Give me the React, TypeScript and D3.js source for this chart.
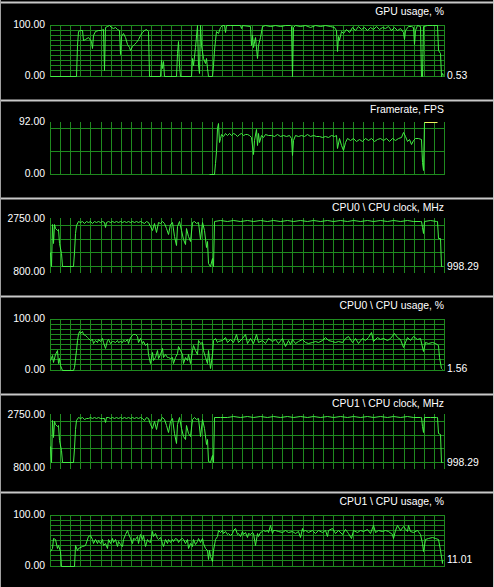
import React from 'react';
import * as d3 from 'd3';

type Pt = [number, number];

// ---- data (time in samples, value) ----
const timeDomain: [number, number] = [0, 1182];
const timeGridCount = 40;

const titles = [
  'GPU usage, %',
  'Framerate, FPS',
  'CPU0 \\ CPU clock, MHz',
  'CPU0 \\ CPU usage, %',
  'CPU1 \\ CPU clock, MHz',
  'CPU1 \\ CPU usage, %',
];

const usageRange: [number, number] = [0, 100];
const fpsRange: [number, number] = [0, 92];
const clockRange: [number, number] = [800, 2750];

const usageGrid = [0, 10, 20, 30, 40, 50, 60, 70, 80, 90, 100];
const fpsGrid = [0, 40, 80];
const clockGrid = [1000, 1500, 2000, 2500];

const fpsHighlightFrom = 1122;

const gpuUsage: Pt[] = [
  [0,0],[78,0],[81,60],[84,88],[90,90],[96,89],[99,70],[105,72],[114,75],[123,68],[126,53],[129,80],[135,88],[144,90],[153,89],[159,92],[162,10],[165,96],[171,98],[177,100],[183,96],[189,94],[195,95],[201,92],[207,90],[210,43],[213,78],[219,84],[225,76],[231,62],[237,55],[240,50],[246,58],[252,62],[258,65],[264,72],[270,80],[276,86],[282,90],[288,92],[294,88],[297,0],[330,0],[333,30],[336,15],[339,28],[342,0],[378,0],[381,45],[384,68],[387,20],[390,0],[423,0],[426,35],[429,20],[435,55],[441,100],[444,20],[447,5],[450,100],[453,60],[459,35],[465,25],[468,35],[471,15],[474,0],[486,0],[489,20],[492,50],[495,70],[498,88],[504,84],[510,95],[516,100],[522,99],[525,86],[528,99],[540,100],[570,100],[573,93],[576,100],[600,98],[603,60],[606,80],[609,55],[615,75],[621,35],[624,60],[630,75],[636,98],[645,100],[660,97],[675,100],[690,98],[705,100],[720,99],[723,98],[726,0],[729,96],[735,100],[750,97],[765,99],[780,96],[795,99],[810,97],[825,100],[840,98],[852,96],[858,90],[861,49],[864,78],[867,70],[873,88],[879,84],[888,92],[897,86],[906,95],[915,90],[924,97],[933,92],[942,96],[951,90],[960,95],[969,92],[978,97],[987,91],[996,96],[1005,93],[1014,97],[1023,90],[1032,95],[1041,89],[1050,94],[1059,85],[1062,72],[1065,90],[1074,97],[1083,98],[1089,96],[1092,62],[1095,90],[1101,99],[1110,98],[1113,0],[1116,0],[1119,97],[1131,100],[1146,99],[1161,100],[1164,50],[1170,45],[1173,0],[1176,5],[1179,0.53],
];

const framerate: Pt[] = [
  [477,0],[492,0],[495,18],[498,40],[501,81],[504,89],[507,55],[510,62],[513,70],[519,66],[525,71],[531,68],[537,72],[543,69],[549,71],[555,70],[561,66],[567,70],[573,71],[579,68],[585,70],[591,70],[597,69],[603,65],[609,35],[612,60],[618,79],[621,50],[624,72],[627,55],[633,68],[639,64],[645,70],[654,68],[663,69],[672,67],[681,70],[690,66],[699,68],[708,67],[717,69],[723,62],[726,32],[729,60],[735,68],[744,66],[753,69],[762,66],[771,70],[780,67],[789,68],[798,66],[807,67],[816,65],[825,66],[834,65],[843,68],[852,66],[858,68],[861,45],[867,62],[873,50],[879,42],[885,55],[891,62],[900,60],[909,63],[918,57],[927,61],[936,58],[945,62],[954,59],[963,63],[972,58],[981,61],[990,62],[999,59],[1008,62],[1017,58],[1026,63],[1035,60],[1044,62],[1053,64],[1059,73],[1065,66],[1071,58],[1077,61],[1083,53],[1089,60],[1095,63],[1104,62],[1113,61],[1116,20],[1119,7],[1122,91],[1161,91],
];

const cpu0Clock: Pt[] = [
  [0,1520],[3,1000],[6,2520],[9,1830],[12,2520],[15,2370],[21,2330],[24,2360],[27,1830],[33,1460],[36,1000],[69,998],[72,1520],[75,2190],[78,2500],[84,2640],[90,2600],[96,2640],[102,2560],[108,2630],[114,2600],[120,2650],[126,2580],[132,2640],[138,2610],[144,2650],[150,2590],[156,2630],[162,2600],[165,2440],[168,2620],[174,2650],[180,2600],[186,2640],[192,2620],[198,2650],[204,2590],[210,2640],[216,2610],[222,2650],[228,2600],[234,2640],[240,2620],[246,2650],[252,2600],[258,2640],[264,2610],[270,2650],[276,2620],[282,2560],[288,2640],[294,2600],[300,2450],[306,2300],[312,2550],[318,2250],[324,2600],[330,2550],[336,2640],[342,2580],[348,2380],[354,2150],[360,2520],[366,2620],[372,2100],[378,1750],[381,2450],[387,2640],[393,2300],[399,2000],[405,1800],[408,2400],[414,2100],[420,1900],[426,2600],[432,2640],[438,2580],[444,2620],[450,2000],[456,2600],[462,2300],[468,1700],[471,1900],[474,1100],[480,1000],[486,1300],[489,1000],[492,2650],[510,2660],[530,2640],[550,2665],[570,2645],[590,2660],[610,2640],[630,2660],[650,2645],[670,2665],[690,2640],[710,2660],[730,2645],[750,2665],[770,2640],[790,2660],[810,2645],[830,2665],[850,2640],[870,2660],[890,2645],[910,2660],[930,2640],[950,2665],[970,2645],[990,2660],[1010,2640],[1030,2660],[1050,2645],[1070,2665],[1090,2640],[1110,2655],[1113,2650],[1116,2440],[1119,2200],[1122,2640],[1140,2660],[1158,2650],[1161,2640],[1164,2030],[1170,2010],[1174,1000],[1176,998.29],
];

const cpu0Usage: Pt[] = [
  [0,18],[5,28],[10,15],[15,31],[20,39],[23,12],[27,22],[31,8],[35,0],[70,0],[73,5],[77,38],[80,57],[83,70],[87,76],[91,72],[95,76],[100,70],[105,67],[110,64],[115,61],[120,57],[125,59],[130,51],[135,57],[140,54],[145,59],[150,56],[155,61],[160,54],[165,43],[170,57],[175,59],[180,52],[185,56],[190,56],[195,54],[200,57],[205,54],[210,56],[215,54],[220,57],[225,56],[230,59],[235,52],[240,63],[245,67],[250,70],[255,69],[260,65],[265,54],[270,61],[275,51],[280,56],[285,48],[290,51],[295,31],[300,12],[305,35],[310,18],[315,25],[320,38],[325,22],[330,31],[335,43],[340,25],[345,31],[350,25],[355,25],[360,22],[365,25],[370,12],[375,25],[380,33],[385,46],[390,38],[395,31],[400,12],[405,25],[410,18],[415,31],[420,12],[425,38],[430,48],[435,38],[440,31],[445,57],[450,51],[455,54],[460,38],[465,25],[470,12],[475,38],[480,2],[485,31],[490,57],[495,61],[500,54],[505,56],[515,57],[525,64],[530,54],[540,59],[550,54],[557,69],[565,54],[575,61],[585,69],[590,51],[600,61],[610,51],[617,70],[625,54],[635,57],[645,52],[655,61],[665,56],[675,59],[685,51],[695,61],[705,46],[713,57],[720,50],[727,59],[735,51],[745,56],[755,59],[765,54],[775,51],[785,53],[795,56],[805,54],[815,57],[825,63],[835,57],[845,56],[855,54],[865,56],[875,54],[885,61],[895,65],[905,54],[915,61],[925,52],[935,61],[945,57],[955,64],[963,74],[970,56],[980,63],[990,59],[1000,61],[1010,57],[1020,61],[1033,72],[1040,64],[1050,59],[1060,44],[1070,64],[1080,57],[1090,65],[1100,59],[1110,61],[1120,37],[1125,54],[1135,52],[1145,54],[1155,51],[1163,48],[1167,25],[1173,2],[1177,1.56],
];

const cpu1Clock: Pt[] = [
  [0,1600],[3,1000],[6,2540],[9,1900],[12,2500],[15,2380],[21,2320],[24,2350],[27,1800],[33,1450],[36,1000],[69,998],[72,1500],[75,2200],[78,2520],[84,2630],[90,2610],[96,2650],[102,2580],[108,2620],[114,2600],[120,2640],[126,2590],[132,2650],[138,2600],[144,2640],[150,2600],[156,2620],[162,2610],[165,2470],[168,2630],[174,2640],[180,2610],[186,2650],[192,2600],[198,2640],[204,2610],[210,2650],[216,2600],[222,2640],[228,2620],[234,2650],[240,2600],[246,2640],[252,2610],[258,2650],[264,2600],[270,2640],[276,2610],[282,2540],[288,2630],[294,2590],[300,2400],[306,2250],[312,2500],[318,2200],[324,2580],[330,2520],[336,2630],[342,2560],[348,2350],[354,2100],[360,2480],[366,2610],[372,2050],[378,1700],[381,2400],[387,2630],[393,2250],[399,1950],[405,1850],[408,2350],[414,2050],[420,1950],[426,2580],[432,2640],[438,2560],[444,2610],[450,1950],[456,2580],[462,2250],[468,1650],[471,1850],[474,1050],[480,1000],[486,1250],[489,1000],[492,2650],[510,2655],[530,2645],[550,2660],[570,2640],[590,2660],[610,2645],[630,2665],[650,2640],[670,2660],[690,2645],[710,2660],[730,2640],[750,2665],[770,2645],[790,2660],[810,2640],[830,2660],[850,2645],[870,2665],[890,2640],[910,2660],[930,2645],[950,2660],[970,2640],[990,2665],[1010,2645],[1030,2660],[1050,2640],[1070,2660],[1090,2645],[1110,2655],[1113,2650],[1116,2300],[1119,2100],[1122,2640],[1140,2655],[1158,2650],[1161,2640],[1164,2050],[1170,2020],[1174,1000],[1176,998.29],
];

const cpu1Usage: Pt[] = [
  [0,28],[5,35],[10,54],[15,51],[20,35],[25,41],[30,28],[33,0],[73,0],[75,41],[80,31],[85,35],[95,38],[105,41],[115,57],[120,59],[125,51],[130,44],[135,51],[140,44],[145,50],[150,44],[155,51],[160,41],[165,44],[170,35],[175,51],[180,44],[185,54],[190,46],[195,51],[200,39],[205,48],[210,43],[215,38],[220,51],[225,61],[230,69],[235,64],[240,54],[245,44],[250,54],[255,51],[260,57],[265,44],[270,61],[275,51],[280,59],[285,38],[290,51],[295,48],[300,46],[305,67],[310,57],[315,64],[320,54],[325,51],[330,56],[335,44],[340,39],[345,51],[350,44],[355,51],[360,46],[365,52],[370,48],[375,54],[380,51],[385,46],[390,52],[395,54],[400,51],[405,44],[410,51],[415,35],[420,44],[425,38],[430,51],[435,43],[440,48],[445,54],[450,46],[455,54],[460,44],[465,35],[470,31],[473,12],[477,31],[480,18],[485,8],[490,31],[495,51],[500,57],[505,69],[510,65],[515,69],[520,64],[525,67],[530,61],[535,64],[540,59],[545,63],[550,70],[555,74],[560,61],[565,64],[570,57],[575,67],[580,61],[585,65],[590,56],[595,64],[600,61],[605,65],[610,63],[615,41],[620,64],[625,57],[630,65],[635,67],[640,69],[645,67],[650,70],[655,65],[660,80],[665,64],[670,69],[675,70],[685,67],[695,65],[705,69],[715,65],[725,67],[735,64],[745,67],[750,56],[755,74],[760,67],[765,70],[775,65],[785,69],[795,64],[805,70],[815,65],[825,69],[830,57],[835,70],[845,74],[855,64],[865,69],[875,61],[885,72],[895,64],[903,54],[910,69],[920,65],[930,70],[940,67],[950,72],[960,64],[970,80],[975,65],[985,69],[995,67],[1005,70],[1015,67],[1025,61],[1030,54],[1035,70],[1040,80],[1050,69],[1060,77],[1070,67],[1075,80],[1080,67],[1090,65],[1100,69],[1110,61],[1115,44],[1120,28],[1125,51],[1135,54],[1145,56],[1155,54],[1165,51],[1170,31],[1175,5],[1177,11.01],
];

// ---- layout / style ----
const W = 494;
const H = 587;
const PLOT_L = 50;
const PLOT_R = 444;
const PANEL_STEP = 98;
const FIRST_SEP = 2.5;
const BG = '#000000';
const SEP = '#c8c8c8';
const GRID = '#1f8a1f';
const LINE = '#44ee44';
const HILITE = '#f0f060';
const FONT = '"Liberation Sans", Arial, sans-serif';
const FS = 10.4;

type Panel = {
  title: string;
  data: Pt[];
  domain: [number, number];
  grid: number[];
  topOff: number;
  showValue: boolean;
  highlightFrom?: number;
};

const panels: Panel[] = [
  { title: titles[0], data: gpuUsage, domain: usageRange, grid: usageGrid, topOff: 22, showValue: true },
  { title: titles[1], data: framerate, domain: fpsRange, grid: fpsGrid, topOff: 21, showValue: false, highlightFrom: fpsHighlightFrom },
  { title: titles[2], data: cpu0Clock, domain: clockRange, grid: clockGrid, topOff: 19.5, showValue: true },
  { title: titles[3], data: cpu0Usage, domain: usageRange, grid: usageGrid, topOff: 22, showValue: true },
  { title: titles[4], data: cpu1Clock, domain: clockRange, grid: clockGrid, topOff: 19.5, showValue: true },
  { title: titles[5], data: cpu1Usage, domain: usageRange, grid: usageGrid, topOff: 22, showValue: true },
];

const snap = (v: number) => Math.round(v) + 0.5;

function PanelView({ p, i }: { p: Panel; i: number }) {
  const sep = FIRST_SEP + PANEL_STEP * i;
  const x = d3.scaleLinear().domain(timeDomain).range([PLOT_L, PLOT_R]);
  const y = d3.scaleLinear().domain(p.domain).range([sep + 73, sep + p.topOff]);
  const line = d3.line<Pt>().x(d => snap(x(d[0]))).y(d => snap(y(d[1])));

  const vTicks = d3.range(timeGridCount).map(k => timeDomain[0] + (k * (timeDomain[1] - timeDomain[0])) / (timeGridCount - 1));

  let main = p.data;
  let hi: Pt[] = [];
  if (p.highlightFrom !== undefined) {
    main = p.data.filter(d => d[0] <= p.highlightFrom!);
    hi = p.data.filter(d => d[0] >= p.highlightFrom!);
  }
  const last = p.data[p.data.length - 1];
  const fmt = d3.format('.2f');

  return (
    <g>
      <rect x={0} y={sep - 1} width={W} height={2} fill={SEP} />
      {vTicks.map((t, k) => (
        <line key={'v' + k} x1={snap(x(t))} x2={snap(x(t))} y1={Math.round(y(p.domain[1]))} y2={Math.round(y(p.domain[0])) + 1} stroke={GRID} strokeWidth={1} shapeRendering="crispEdges" />
      ))}
      {p.grid.map((g, k) => (
        <line key={'h' + k} x1={PLOT_L} x2={PLOT_R + 1} y1={snap(y(g))} y2={snap(y(g))} stroke={GRID} strokeWidth={1} shapeRendering="crispEdges" />
      ))}
      <path d={line(main) || ''} fill="none" stroke={LINE} strokeWidth={1} />
      {hi.length > 1 && <path d={line(hi) || ''} fill="none" stroke={HILITE} strokeWidth={1} />}
      <text x={PLOT_R} y={sep + 12.3} textAnchor="end" fill="#fff" fontSize={FS} fontFamily={FONT}>{p.title}</text>
      <text x={45} y={y(p.domain[1]) + 3.6} textAnchor="end" fill="#fff" fontSize={FS} fontFamily={FONT}>{fmt(p.domain[1])}</text>
      <text x={45} y={y(p.domain[0]) + 3} textAnchor="end" fill="#fff" fontSize={FS} fontFamily={FONT}>{fmt(p.domain[0])}</text>
      {p.showValue && (
        <text x={447} y={y(last[1]) + 3.6} textAnchor="start" fill="#fff" fontSize={FS} fontFamily={FONT}>{fmt(last[1])}</text>
      )}
    </g>
  );
}

export default function App() {
  return (
    <svg width={W} height={H} viewBox={`0 0 ${W} ${H}`} style={{ position: 'fixed', left: 0, top: 0, display: 'block', background: BG }}>
      <rect x={0} y={0} width={W} height={H} fill={BG} />
      {panels.map((p, i) => (
        <PanelView key={i} p={p} i={i} />
      ))}
      <rect x={0} y={0} width={1} height={H} fill="#a0a0a0" />
      <rect x={W - 1} y={0} width={1} height={H} fill={SEP} />
    </svg>
  );
}
